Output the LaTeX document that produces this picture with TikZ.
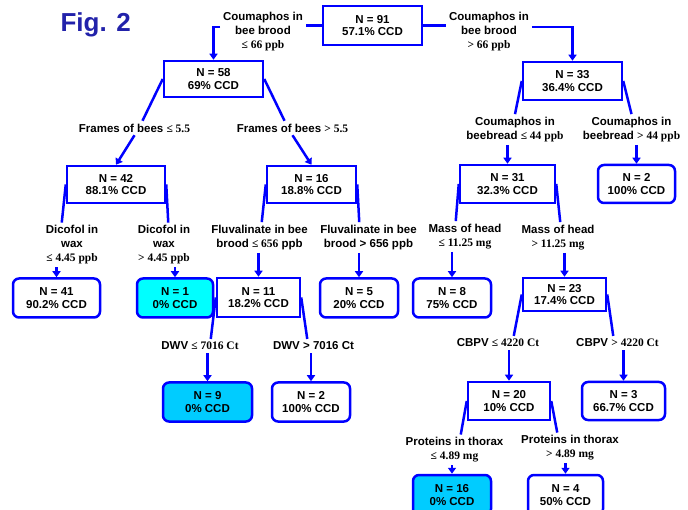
\documentclass[tikz,border=0pt]{standalone}
\usepackage{fontspec}
\setmainfont{Liberation Sans}
\newfontfamily\tnr{Liberation Serif}
\usetikzlibrary{arrows.meta,calc}
\definecolor{treeblue}{RGB}{0,0,255}
\definecolor{figblue}{RGB}{34,34,170}
\definecolor{nocyan}{RGB}{0,255,255}
\definecolor{noblue}{RGB}{0,204,255}
\newcommand{\val}[1]{{\tnr #1}}
\tikzset{
	split/.style={draw=treeblue, line width=2.5pt, inner sep=0pt, minimum height=37pt, align=center, font=\bfseries\fontsize{11.5}{12.5}\selectfont},
	leaf/.style={split, rounded corners=6pt, minimum height=39pt},
	cond/.style={inner sep=0pt, outer sep=3pt, align=center, font=\bfseries\fontsize{11.5}{14}\selectfont},
	link/.style={draw=treeblue, line width=2.5pt},
	arr/.style={link, -{Triangle[width=8pt,length=6pt]}},
}
\begin{document}
\begin{tikzpicture}[x=1pt,y=-1pt]
	\useasboundingbox (0,0) rectangle (688,510);
	\node[anchor=base west, text=figblue, font=\bfseries\fontsize{26}{30}\selectfont] (title) at (57,32) {Fig. 2};
	% boxes
	\node[split, minimum width=99pt, minimum height=39pt] (root) at (372.5,25.5) {N = 91\\57.1\% CCD};
	\node[split, minimum width=99pt, minimum height=36pt] (n58) at (213.5,79) {N = 58\\69\% CCD};
	\node[split, minimum width=99pt, minimum height=38pt] (n33) at (572.5,81) {N = 33\\36.4\% CCD};
	\node[split, minimum width=98pt] (n42) at (116,184.5) {N = 42\\88.1\% CCD};
	\node[split, minimum width=89pt] (n16) at (311.5,184.5) {N = 16\\18.8\% CCD};
	\node[split, minimum width=95pt, minimum height=38pt] (n31) at (507.5,184) {N = 31\\32.3\% CCD};
	\node[leaf, minimum width=77pt, minimum height=38pt] (l2) at (636.5,184) {N = 2\\100\% CCD};
	\node[leaf, minimum width=87pt] (l41) at (56.5,298) {N = 41\\90.2\% CCD};
	\node[leaf, minimum width=76pt, fill=nocyan] (l1) at (175,298) {N = 1\\0\% CCD};
	\node[split, minimum width=83pt, minimum height=39pt] (n11) at (258.5,297.5) {N = 11\\18.2\% CCD};
	\node[leaf, minimum width=78pt] (l5) at (359,298) {N = 5\\20\% CCD};
	\node[leaf, minimum width=78pt] (l8) at (452,298) {N = 8\\75\% CCD};
	\node[split, minimum width=83pt, minimum height=33pt] (n23) at (564.5,294.5) {N = 23\\17.4\% CCD};
	\node[leaf, minimum width=89pt, fill=noblue] (l9) at (207.5,402) {N = 9\\0\% CCD};
	\node[leaf, minimum width=78pt] (l2b) at (311,402) {N = 2\\100\% CCD};
	\node[split, minimum width=82pt, minimum height=38pt] (n20) at (509,401) {N = 20\\10\% CCD};
	\node[leaf, minimum width=83pt, minimum height=38pt] (l3) at (623.5,401) {N = 3\\66.7\% CCD};
	\node[leaf, minimum width=78pt, minimum height=40pt, fill=noblue] (l16) at (452,495) {N = 16\\0\% CCD};
	\node[leaf, minimum width=75pt, minimum height=40pt] (l4) at (565.5,495) {N = 4\\50\% CCD};
	% splitting rules
	\node[cond] (cl) at (263,32) {Coumaphos in\\bee brood\\\val{≤ 66 ppb}};
	\node[cond] (cr) at (489,32) {Coumaphos in\\bee brood\\\val{> 66 ppb}};
	\node[cond] (f1) at (134.5,128) {Frames of bees \val{≤ 5.5}};
	\node[cond] (f2) at (292.5,128) {Frames of bees \val{> 5.5}};
	\node[cond] (cb1) at (515,129.5) {Coumaphos in\\beebread \val{≤ 44 ppb}};
	\node[cond] (cb2) at (631.5,129.5) {Coumaphos in\\beebread \val{> 44 ppb}};
	\node[cond] (d1) at (72,245) {Dicofol in\\wax\\\val{≤ 4.45 ppb}};
	\node[cond] (d2) at (164,245) {Dicofol in\\wax\\\val{> 4.45 ppb}};
	\node[cond] (fl1) at (259.5,237.5) {Fluvalinate in bee\\brood \val{≤ 656} ppb};
	\node[cond] (fl2) at (368.5,237.5) {Fluvalinate in bee\\brood > 656 ppb};
	\node[cond] (mh1) at (465,236.5) {Mass of head\\\val{≤ 11.25 mg}};
	\node[cond] (mh2) at (558,237.5) {Mass of head\\\val{> 11.25 mg}};
	\node[cond] (dw1) at (200,346) {DWV \val{≤ 7016 Ct}};
	\node[cond] (dw2) at (313.5,346) {DWV > 7016 Ct};
	\node[cond] (cp1) at (498,343) {CBPV \val{≤ 4220 Ct}};
	\node[cond] (cp2) at (617.5,343) {CBPV \val{> 4220 Ct}};
	\node[cond] (pt1) at (454.5,450) {Proteins in thorax\\\val{≤ 4.89 mg}};
	\node[cond] (pt2) at (570,448) {Proteins in thorax\\\val{> 4.89 mg}};
	% connectors
	\draw[link] (root.west) -- (cl.east |- root.west);
	\draw[arr] ([yshift=5pt]cl.west) -| (n58.north);
	\draw[link] (root.east) -- (cr.west |- root.east);
	\draw[arr] ([yshift=5pt]cr.east) -| (n33.north);
	\draw[link] (n58.west) -- ([xshift=8pt]f1.north);
	\draw[arr] (f1.south) -- (n42.north);
	\draw[link] (n58.east) -- ([xshift=-8pt]f2.north);
	\draw[arr] (f2.south) -- (n16.north);
	\draw[link] (n33.west) -- (cb1.north);
	\draw[arr] (cb1.south -| n31.north) -- (n31.north);
	\draw[link] (n33.east) -- (cb2.north);
	\draw[arr] (cb2.south -| l2.north) -- (l2.north);
	\draw[link] (n42.west) -- ($(n42.west |- d1.north)+(-4,0)$);
	\draw[arr] (d1.south -| l41.north) -- (l41.north);
	\draw[link] (n42.east) -- ($(n42.east |- d2.north)+(2,0)$);
	\draw[arr] (d2.south -| l1.north) -- (l1.north);
	\draw[link] (n16.west) -- ($(n16.west |- fl1.north)+(-4,0)$);
	\draw[arr] (fl1.south -| n11.north) -- (n11.north);
	\draw[link] (n16.east) -- ($(n16.east |- fl2.north)+(2,0)$);
	\draw[arr] (fl2.south -| l5.north) -- (l5.north);
	\draw[link] (n31.west) -- ($(n31.west |- mh1.north)+(-3,0)$);
	\draw[arr] (mh1.south -| l8.north) -- (l8.north);
	\draw[link] (n31.east) -- ($(n31.east |- mh2.north)+(4,0)$);
	\draw[arr] (mh2.south -| n23.north) -- (n23.north);
	\draw[link] (n11.west) -- ($(n11.west |- dw1.north)+(-5,0)$);
	\draw[arr] (dw1.south -| l9.north) -- (l9.north);
	\draw[link] (n11.east) -- ($(n11.east |- dw2.north)+(6,0)$);
	\draw[arr] (dw2.south -| l2b.north) -- (l2b.north);
	\draw[link] (n23.west) -- ($(n23.west |- cp1.north)+(-8,0)$);
	\draw[arr] (cp1.south -| n20.north) -- (n20.north);
	\draw[link] (n23.east) -- ($(n23.east |- cp2.north)+(6,0)$);
	\draw[arr] (cp2.south -| l3.north) -- (l3.north);
	\draw[link] (n20.west) -- ($(n20.west |- pt1.north)+(-6,0)$);
	\draw[arr] (pt1.south -| l16.north) -- (l16.north);
	\draw[link] (n20.east) -- ($(n20.east |- pt2.north)+(6,0)$);
	\draw[arr] (pt2.south -| l4.north) -- (l4.north);
\end{tikzpicture}
\end{document}
